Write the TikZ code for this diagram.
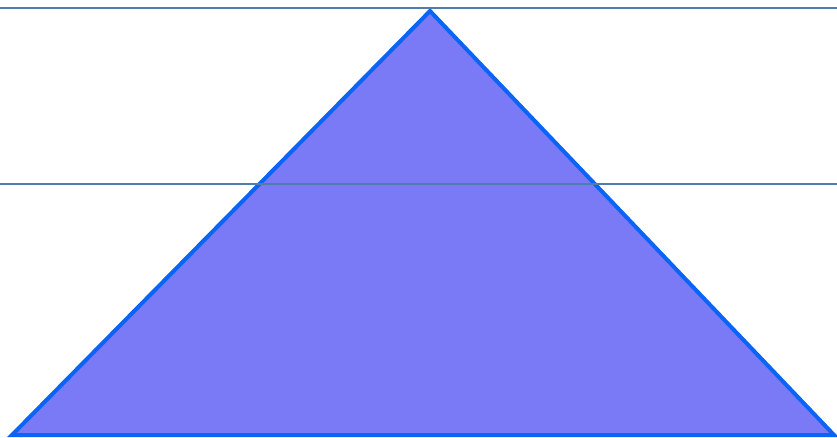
\documentclass[tikz,border=0pt]{standalone}
\definecolor{triedge}{HTML}{0A64F5}
\definecolor{trifill}{HTML}{7A7AF6}
\definecolor{hline}{HTML}{4F7DAE}
\tikzset{
  tri/.style={draw=triedge, fill=trifill, line width=4pt, line join=miter},
  guide/.style={draw=hline, line width=2.4pt}
}
\begin{document}
\begin{tikzpicture}[x=1pt,y=-1pt]
\useasboundingbox (0,0) rectangle (837,438);
\coordinate (apex) at (430,11);
\coordinate (bl) at (12,435);
\coordinate (br) at (834,435);
\draw[tri] (bl) -- (apex) -- (br) -- cycle;
\coordinate (t1) at (0,8);
\coordinate (t2) at (837,8);
\coordinate (m1) at (0,184);
\coordinate (m2) at (837,184);
\draw[guide] (t1) -- (t2);
\draw[guide] (m1) -- (m2);
\end{tikzpicture}
\end{document}
